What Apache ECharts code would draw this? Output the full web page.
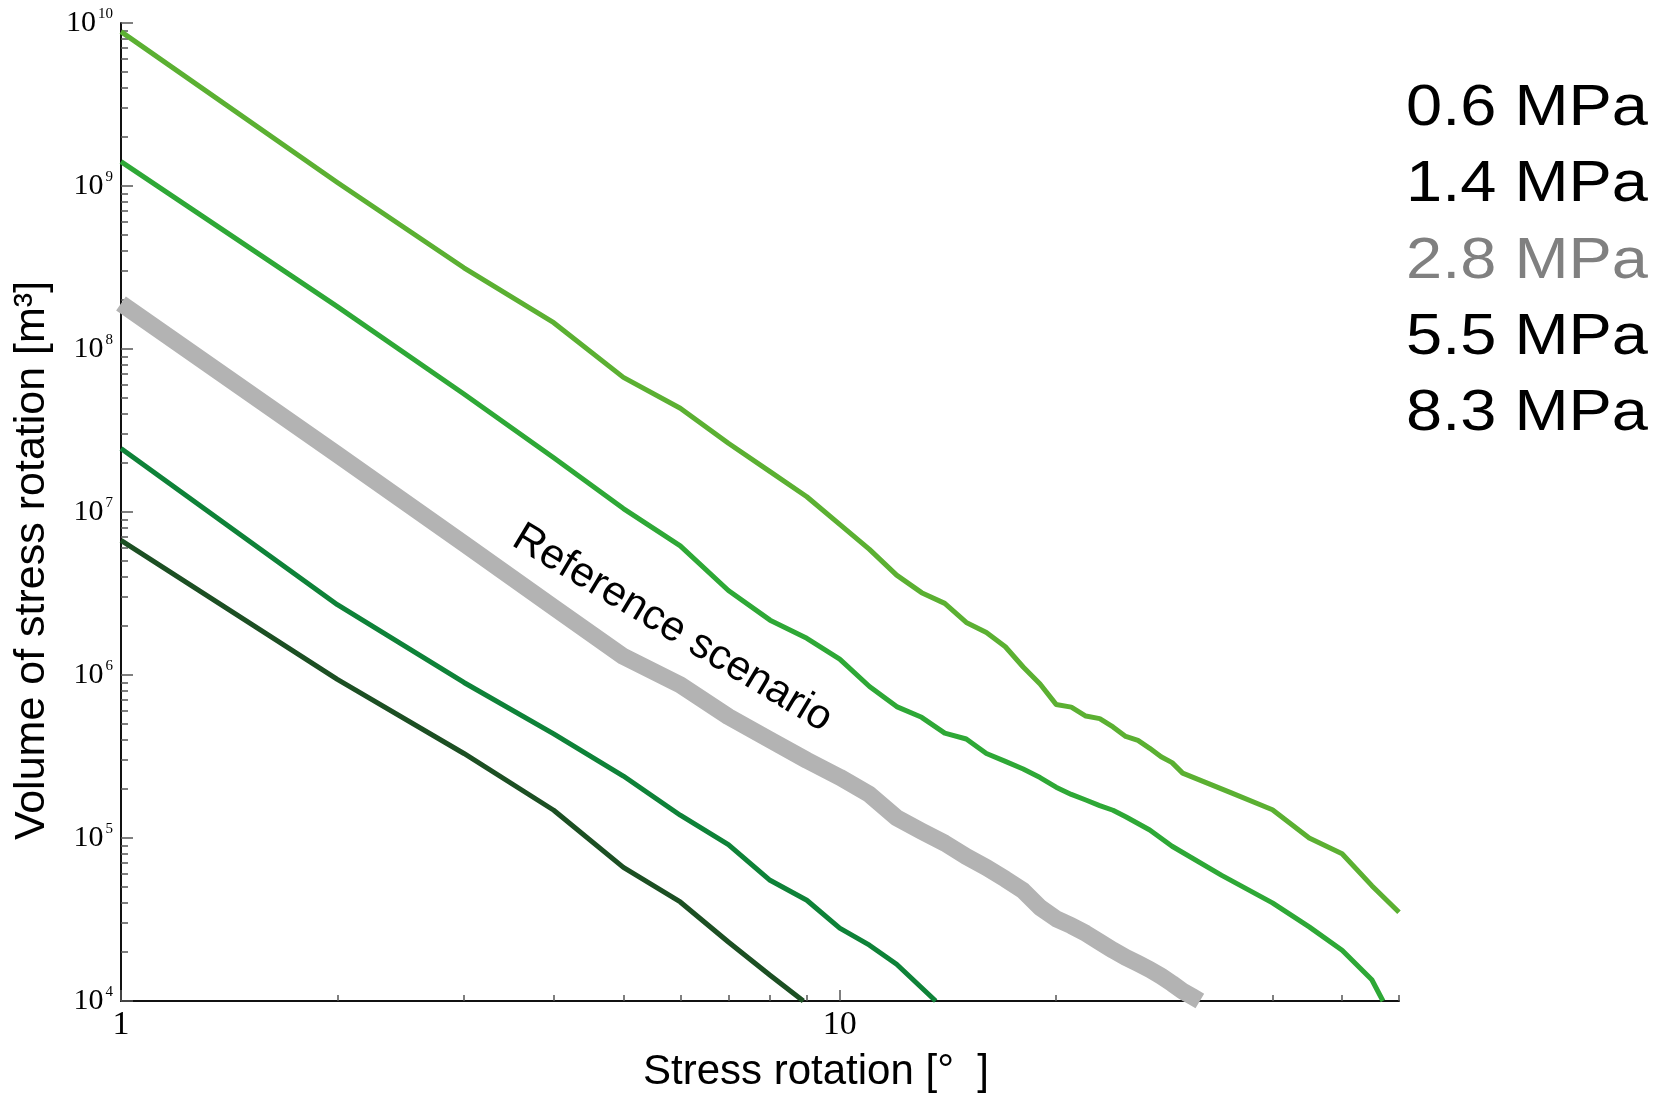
<!DOCTYPE html>
<html>
<head>
<meta charset="utf-8">
<script src="https://cdn.jsdelivr.net/npm/echarts@6/dist/echarts.min.js"></script>
<style>html,body{margin:0;padding:0;background:#fff;}#c{width:1662px;height:1099px;}</style>
</head>
<body>
<div id="c"></div>
<script>
// ---- data ----
const seriesNames = ['0.6 MPa', '1.4 MPa', '2.8 MPa', '5.5 MPa', '8.3 MPa'];
const seriesColors = ['#5bb032', '#2ea836', '#b3b3b3', '#0e8238', '#1c4f23'];
const legendTextColors = ['#000000', '#000000', '#808080', '#000000', '#000000'];

const s06 = [[1,8.85e9],[2,1.05e9],[3,3.15e8],[4,1.45e8],[5,6.7e7],[6,4.33e7],[7,2.64e7],[8,1.77e7],[9,1.24e7],[10,8.4e6],[11,5.9e6],[12,4.1e6],[13,3.2e6],[14,2.75e6],[15,2.1e6],[16,1.82e6],[17,1.49e6],[18,1.12e6],[19,8.8e5],[20,6.6e5],[21,6.35e5],[22,5.6e5],[23,5.4e5],[24,4.8e5],[25,4.2e5],[26,3.97e5],[27,3.55e5],[28,3.15e5],[29,2.9e5],[30,2.5e5],[35,1.9e5],[40,1.49e5],[45,1.0e5],[50,8.0e4],[55,5.1e4],[60,3.5e4]];
const s14 = [[1,1.41e9],[2,1.82e8],[3,5.3e7],[4,2.15e7],[5,1.05e7],[6,6.2e6],[7,3.3e6],[8,2.17e6],[9,1.68e6],[10,1.25e6],[11,8.5e5],[12,6.4e5],[13,5.5e5],[14,4.4e5],[15,4.05e5],[16,3.3e5],[17,2.95e5],[18,2.65e5],[19,2.35e5],[20,2.05e5],[21,1.85e5],[22,1.71e5],[23,1.58e5],[24,1.48e5],[25,1.35e5],[27,1.12e5],[29,8.9e4],[34,5.9e4],[40,4.0e4],[45,2.85e4],[50,2.05e4],[55,1.35e4],[57,1.0e4]];
const s28 = [[1,1.9e8],[2,2.25e7],[3,6.4e6],[4,2.6e6],[5,1.3e6],[6,8.7e5],[7,5.55e5],[8,4.0e5],[9,3.0e5],[10,2.36e5],[11,1.85e5],[12,1.33e5],[13,1.1e5],[14,9.3e4],[15,7.7e4],[16,6.6e4],[17,5.6e4],[18,4.75e4],[19,3.75e4],[20,3.2e4],[21,2.9e4],[22,2.6e4],[23,2.3e4],[24,2.05e4],[25,1.85e4],[26,1.7e4],[27,1.56e4],[28,1.42e4],[29,1.28e4],[30,1.15e4],[31,1.06e4],[31.7,1.0e4]];
const s55 = [[1,2.45e7],[2,2.7e6],[3,9.0e5],[4,4.35e5],[5,2.4e5],[6,1.38e5],[7,9.1e4],[8,5.5e4],[9,4.15e4],[10,2.8e4],[11,2.2e4],[12,1.68e4],[13.6,1.0e4]];
const s83 = [[1,6.7e6],[2,9.4e5],[3,3.3e5],[4,1.48e5],[5,6.6e4],[6,4.05e4],[7,2.3e4],[8,1.44e4],[8.9,1.0e4]];
const seriesData = [s06, s14, s28, s55, s83];
const lineWidths = [5, 5, 17, 5, 5];

const xMajorTicks = [1, 10];
const xMinorTicks = [2, 3, 4, 5, 6, 7, 8, 9, 20, 30, 40, 50, 60];
const yDecades = [4, 5, 6, 7, 8, 9];
const yMinorMultipliers = [2, 3, 4, 5, 6, 7, 8, 9];
const yMinorTicks = [];
yDecades.forEach(d => yMinorMultipliers.forEach(m => yMinorTicks.push(m * Math.pow(10, d))));

const annotationText = 'Reference scenario';
const annotationPoint = [5.85, 1.93e6];
const legendCenters = [109, 185, 262, 338, 414];

// ---- chart ----
const chart = echarts.init(document.getElementById('c'), null, {renderer: 'canvas'});

const series = seriesNames.map((name, i) => ({
  name: name,
  type: 'line',
  data: seriesData[i],
  showSymbol: false,
  symbol: 'none',
  lineStyle: {color: seriesColors[i], width: lineWidths[i], cap: 'butt', join: 'round'},
  itemStyle: {color: seriesColors[i]},
  z: i === 2 ? 1 : 2,
  silent: true
}));
series.push({
  name: 'annotation',
  type: 'scatter',
  data: [annotationPoint],
  symbolSize: 1,
  itemStyle: {color: '#000', opacity: 0},
  silent: true,
  z: 5,
  label: {
    show: true,
    position: 'inside',
    formatter: annotationText,
    rotate: -31,
    color: '#000',
    opacity: 1,
    textBorderWidth: 0,
    fontSize: 42,
    fontFamily: 'Liberation Sans'
  }
});

const axisBlack = '#111';
const tickGray = '#555';

const option = {
  animation: false,
  backgroundColor: '#ffffff',
  grid: {left: 121, right: 263, top: 23, bottom: 98, containLabel: false, outerBoundsMode: 'none'},
  xAxis: [
    {
      type: 'log', logBase: 10, min: 1, max: 60, position: 'bottom',
      name: 'Stress rotation [°  ]', nameLocation: 'middle', nameGap: 50,
      nameTextStyle: {fontFamily: 'Liberation Sans', fontSize: 42, color: '#000', padding: [0, 0, 0, 112]},
      axisLine: {show: true, onZero: false, lineStyle: {color: axisBlack, width: 2}},
      axisTick: {show: true, inside: true, length: 11, customValues: xMajorTicks, lineStyle: {color: tickGray, width: 1.5}},
      axisLabel: {show: true, customValues: xMajorTicks, margin: 7, fontFamily: 'Liberation Serif', fontSize: 34, color: '#000'},
      splitLine: {show: false},
      minorTick: {show: false}
    },
    {
      type: 'log', logBase: 10, min: 1, max: 60, position: 'bottom',
      axisLine: {show: false, onZero: false},
      axisTick: {show: true, inside: true, length: 6, customValues: xMinorTicks, lineStyle: {color: tickGray, width: 1.5}},
      axisLabel: {show: false},
      splitLine: {show: false}
    }
  ],
  yAxis: [
    {
      type: 'log', logBase: 10, min: 1e4, max: 1e10, position: 'left',
      name: 'Volume of stress rotation [m³]', nameLocation: 'middle', nameGap: 67,
      nameTextStyle: {fontFamily: 'Liberation Sans', fontSize: 43, color: '#000', padding: [0, 97, 0, 0]},
      axisLine: {show: true, onZero: false, lineStyle: {color: axisBlack, width: 2}},
      axisTick: {show: true, inside: true, length: 12, lineStyle: {color: tickGray, width: 1.5}},
      axisLabel: {
        show: true, margin: 8,
        formatter: function (v) {
          const e = Math.round(Math.log10(v));
          return '{b|10}{s|' + e + '}';
        },
        rich: {
          b: {fontFamily: 'Liberation Serif', fontSize: 30, color: '#000', lineHeight: 32},
          s: {fontFamily: 'Liberation Serif', fontSize: 15, color: '#000', verticalAlign: 'top', lineHeight: 15, padding: [0, 0, 0, 2]}
        }
      },
      splitLine: {show: false}
    },
    {
      type: 'log', logBase: 10, min: 1e4, max: 1e10, position: 'left',
      axisLine: {show: false, onZero: false},
      axisTick: {show: true, inside: true, length: 7, customValues: yMinorTicks, lineStyle: {color: tickGray, width: 1.5}},
      axisLabel: {show: false},
      splitLine: {show: false}
    }
  ],
  graphic: seriesNames.map((name, i) => ({
    type: 'text',
    x: 1406,
    y: legendCenters[i],
    scaleX: 1.14,
    silent: true,
    style: {
      text: name,
      x: 0, y: 0,
      fill: legendTextColors[i],
      fontSize: 57,
      fontFamily: 'Liberation Sans',
      align: 'left',
      verticalAlign: 'middle'
    }
  })),
  series: series
};

chart.setOption(option);
</script>
</body>
</html>
